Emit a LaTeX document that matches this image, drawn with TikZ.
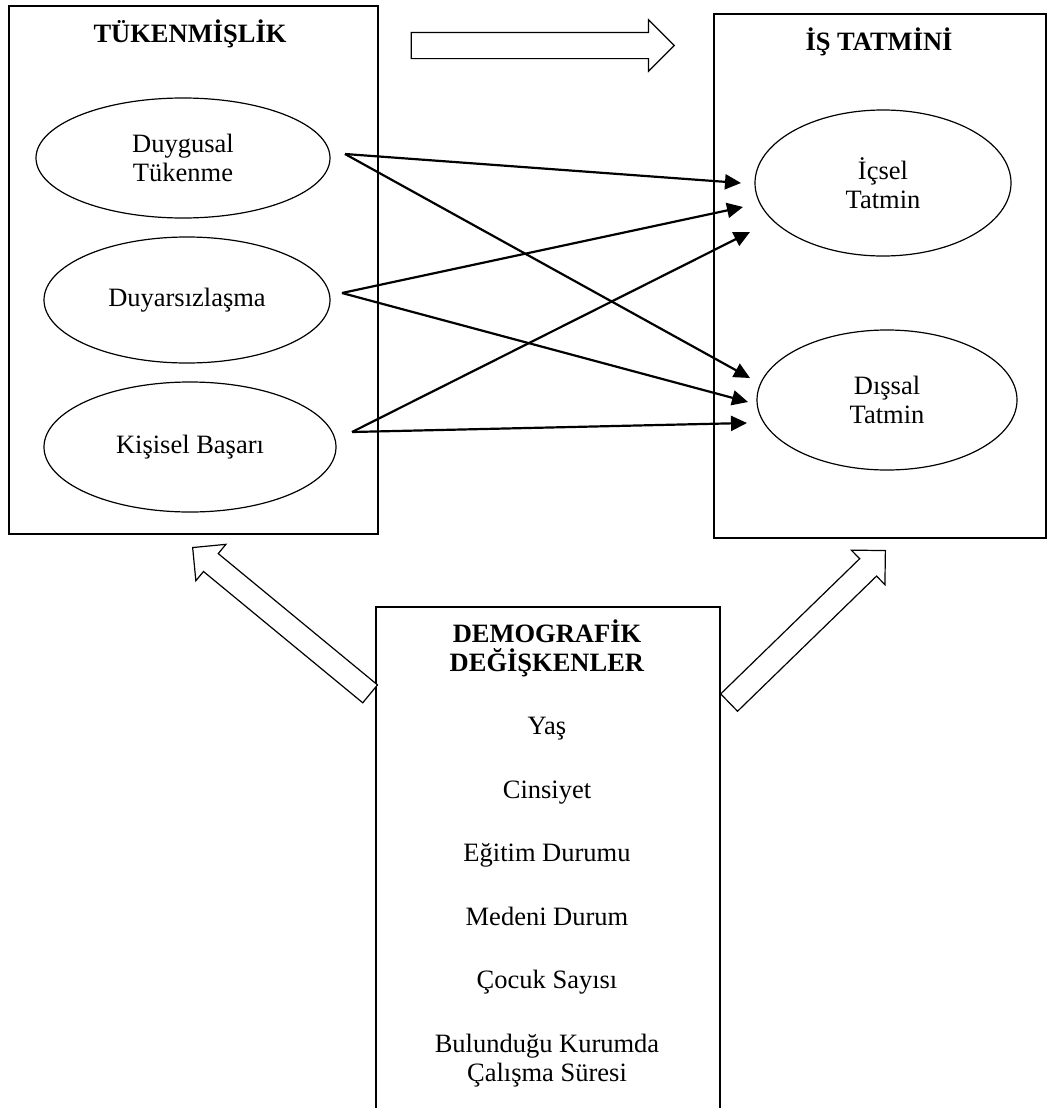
\documentclass[tikz,border=0pt]{standalone}
\usepackage{fontspec}
\setmainfont{Liberation Serif}
\usetikzlibrary{positioning, shapes, arrows.meta}

\begin{document}
\begin{tikzpicture}[
  x=0.5pt, y=-0.5pt,
  >={Triangle[length=8pt, width=7.5pt]},
  every node/.style={font=\fontsize{13.25}{14.5}\selectfont},
  panel/.style={draw, line width=0.8pt, inner sep=0pt, anchor=north west},
  factor/.style={draw, ellipse, line width=0.6pt, inner sep=0pt, align=center},
  heading/.style={font=\fontsize{13.25}{14.5}\selectfont\bfseries, anchor=base},
  effect/.style={->, line width=1.1pt},
  hollow/.style={draw, fill=white, single arrow, line width=0.6pt,
                 inner xsep=0pt, anchor=tip}
]
  \useasboundingbox (0,0) rectangle (1048,1108);
  \clip (0,0) rectangle (1048,1108);

  % panels
  \node[panel, minimum width=184.5pt, minimum height=264pt] (burnout) at (8,5) {};
  \node[panel, minimum width=166pt, minimum height=262pt] (jobsat) at (713,13) {};
  \node[panel, minimum width=172pt, minimum height=260pt] (demog) at (375,606) {};

  \node[heading] (burnoutTitle) at (190,42) {TÜKENMİŞLİK};
  \node[heading] (jobsatTitle) at (879,50) {İŞ TATMİNİ};

  % dimensions
  \node[factor, minimum width=147pt, minimum height=60pt] (exhaustion) at (183,158) {Duygusal\\Tükenme};
  \node[factor, minimum width=143pt, minimum height=63pt] (depers) at (187,300) {Duyarsızlaşma};
  \node[factor, minimum width=146pt, minimum height=65pt] (achieve) at (190,447) {Kişisel Başarı};
  \node[factor, minimum width=128pt, minimum height=73pt] (intrinsic) at (883,183) {İçsel\\Tatmin};
  \node[factor, minimum width=130pt, minimum height=70pt] (extrinsic) at (887,400) {Dışsal\\Tatmin};

  \node[anchor=north, align=center, inner sep=0pt] (demogList) at (547,619)
    {\textbf{DEMOGRAFİK}\\\textbf{DEĞİŞKENLER}\\[17.25pt]
     Yaş\\[17.25pt]Cinsiyet\\[17.25pt]Eğitim Durumu\\[17.25pt]Medeni Durum\\[17.25pt]
     Çocuk Sayısı\\[17.25pt]Bulunduğu Kurumda\\Çalışma Süresi};

  % arrow ends
  \coordinate (exhaustionOut) at (345,154);
  \coordinate (depersOut) at (342,293);
  \coordinate (achieveOut) at (352,432);
  \coordinate (intrinsicIn1) at (741,183);
  \coordinate (intrinsicIn2) at (743,207);
  \coordinate (intrinsicIn3) at (750,232);
  \coordinate (extrinsicIn1) at (750,378);
  \coordinate (extrinsicIn2) at (748,402);
  \coordinate (extrinsicIn3) at (747,423);

  \draw[effect] (exhaustionOut) -- (intrinsicIn1);
  \draw[effect] (exhaustionOut) -- (extrinsicIn1);
  \draw[effect] (depersOut) -- (intrinsicIn2);
  \draw[effect] (depersOut) -- (extrinsicIn2);
  \draw[effect] (achieveOut) -- (intrinsicIn3);
  \draw[effect] (achieveOut) -- (extrinsicIn3);

  % block arrows
  \node[hollow, minimum height=131.5pt, minimum width=25pt, inner ysep=6.25pt,
        single arrow head extend=6.25pt] (mainFlow) at (675,45.5) {};
  \node[hollow, rotate=140.5, minimum height=115pt, minimum width=23pt, inner ysep=5.5pt,
        single arrow head extend=6pt] (toBurnout) at (192,547) {};
  \node[hollow, rotate=44.2, minimum height=109pt, minimum width=23.5pt, inner ysep=5.75pt,
        single arrow head extend=6pt] (toJobsat) at (886,550) {};
\end{tikzpicture}
\end{document}
